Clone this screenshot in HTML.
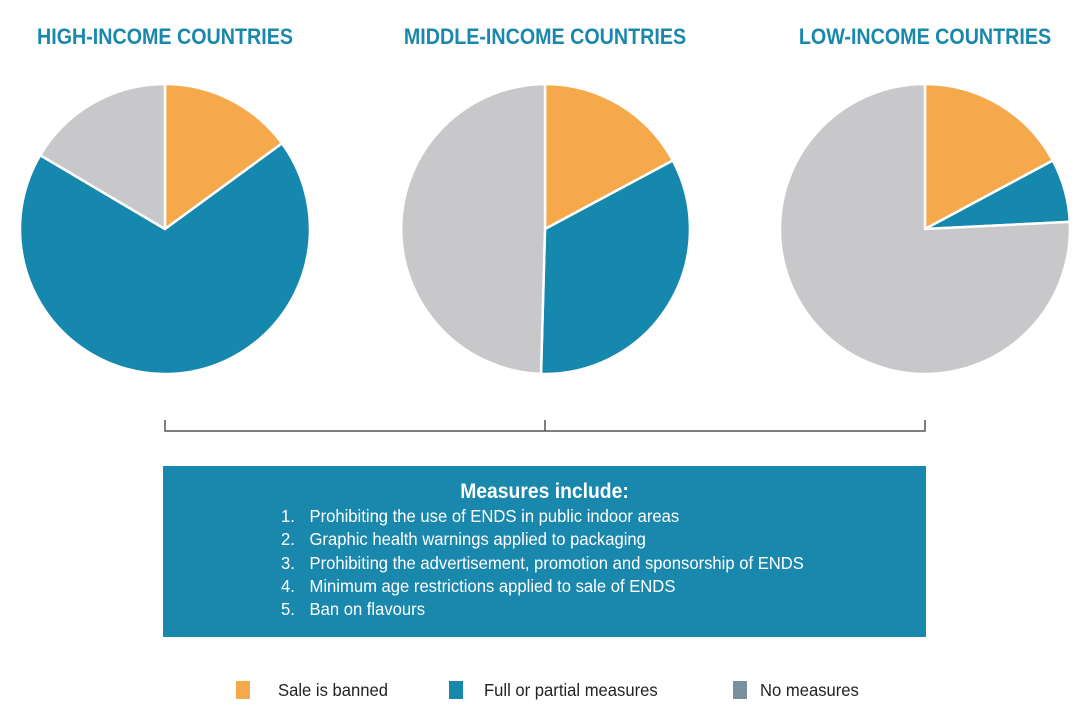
<!DOCTYPE html>
<html><head><meta charset="utf-8"><style>
body{margin:0;background:#fff;width:1090px;height:725px;overflow:hidden;position:relative;font-family:"Liberation Sans",sans-serif;}
.t{position:absolute;top:24px;width:360px;text-align:center;color:#1A88AD;font-weight:bold;font-size:22px;transform:scaleX(0.895);transform-origin:center}
.box{position:absolute;left:163px;top:466px;width:763px;height:171px;background:#1A87AC;color:#fff}
.box h{position:absolute;top:14px;width:100%;text-align:center;font-size:21px;font-weight:bold;display:block;transform:scaleX(0.92)}
.li{position:absolute;left:118px;font-size:17.5px;transform:scaleX(0.95);transform-origin:left;width:700px}
.li span{position:absolute;left:30px;white-space:nowrap}
.lg{position:absolute;top:680px;font-size:17.5px;color:#222;transform:scaleX(0.95);transform-origin:left;white-space:nowrap}
.sq{position:absolute;top:681px;width:14px;height:18px}
</style></head><body>
<div class="t" style="left:-15px">HIGH-INCOME COUNTRIES</div>
<div class="t" style="left:365px">MIDDLE-INCOME COUNTRIES</div>
<div class="t" style="left:745px">LOW-INCOME COUNTRIES</div>
<svg width="1090" height="725" style="position:absolute;left:0;top:0">
<g stroke="#fff" stroke-width="2.5" stroke-linejoin="round">
<path d="M165,229 L165,84 A145,145 0 0 1 282,143.4 Z" fill="#F5A94A"/>
<path d="M165,229 L282,143.4 A145,145 0 1 1 40.2,155.2 Z" fill="#1788AD"/>
<path d="M165,229 L40.2,155.2 A145,145 0 0 1 165,84 Z" fill="#C8C8CA"/>
<path d="M545,229 L545,84 A145,145 0 0 1 672.8,160.5 Z" fill="#F5A94A"/>
<path d="M545,229 L672.8,160.5 A145,145 0 0 1 541,373.9 Z" fill="#1788AD"/>
<path d="M545,229 L541,373.9 A145,145 0 0 1 545,84 Z" fill="#C8C8CA"/>
<path d="M925,229 L925,84 A145,145 0 0 1 1052.8,160.5 Z" fill="#F5A94A"/>
<path d="M925,229 L1052.8,160.5 A145,145 0 0 1 1069.8,221.9 Z" fill="#1788AD"/>
<path d="M925,229 L1069.8,221.9 A145,145 0 1 1 925,84 Z" fill="#C8C8CA"/>
</g>
<path d="M165,420 V431 H925 V420 M545,431 V420" fill="none" stroke="#555" stroke-width="1.5"/>
</svg>
<div class="box">
<h>Measures include:</h>
<div class="li" style="top:40px">1.<span>Prohibiting the use of ENDS in public indoor areas</span></div>
<div class="li" style="top:63px">2.<span>Graphic health warnings applied to packaging</span></div>
<div class="li" style="top:87px">3.<span>Prohibiting the advertisement, promotion and sponsorship of ENDS</span></div>
<div class="li" style="top:110px">4.<span>Minimum age restrictions applied to sale of ENDS</span></div>
<div class="li" style="top:133px">5.<span>Ban on flavours</span></div>
</div>
<div class="sq" style="left:236px;background:#F5A94A"></div><div class="lg" style="left:278px">Sale is banned</div>
<div class="sq" style="left:449px;background:#1788AD"></div><div class="lg" style="left:484px">Full or partial measures</div>
<div class="sq" style="left:733px;background:#7A909C"></div><div class="lg" style="left:760px">No measures</div>
</body></html>
